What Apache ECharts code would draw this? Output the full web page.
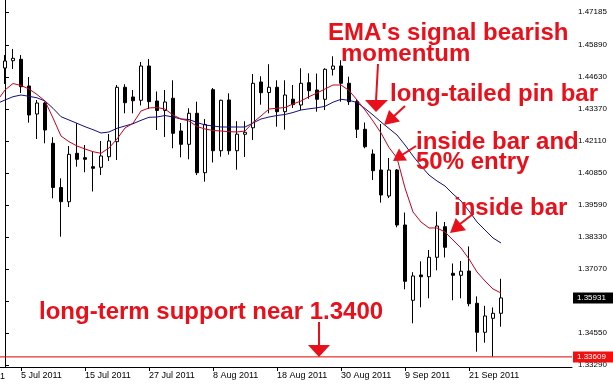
<!DOCTYPE html>
<html><head><meta charset="utf-8">
<script src="https://cdn.jsdelivr.net/npm/echarts@6/dist/echarts.min.js"></script>
<style>html,body{margin:0;padding:0;background:#fff}#c{width:613px;height:385px}</style>
</head><body><div id="c"></div>
<script>
const dates = ['1 Jul 2011','4 Jul 2011','5 Jul 2011','6 Jul 2011','7 Jul 2011','8 Jul 2011','11 Jul 2011','12 Jul 2011','13 Jul 2011','14 Jul 2011','15 Jul 2011','18 Jul 2011','19 Jul 2011','20 Jul 2011','21 Jul 2011','22 Jul 2011','25 Jul 2011','26 Jul 2011','27 Jul 2011','28 Jul 2011','29 Jul 2011',
'1 Aug 2011','2 Aug 2011','3 Aug 2011','4 Aug 2011','5 Aug 2011','8 Aug 2011','9 Aug 2011','10 Aug 2011','11 Aug 2011','12 Aug 2011','15 Aug 2011','16 Aug 2011','17 Aug 2011','18 Aug 2011','19 Aug 2011','22 Aug 2011','23 Aug 2011','24 Aug 2011','25 Aug 2011','26 Aug 2011','29 Aug 2011','30 Aug 2011','31 Aug 2011',
'1 Sep 2011','2 Sep 2011','5 Sep 2011','6 Sep 2011','7 Sep 2011','8 Sep 2011','9 Sep 2011','12 Sep 2011','13 Sep 2011','14 Sep 2011','15 Sep 2011','16 Sep 2011','19 Sep 2011','20 Sep 2011','21 Sep 2011','22 Sep 2011','23 Sep 2011','26 Sep 2011','27 Sep 2011'];

const opens = [1.44985,1.45272,1.45327,1.44276,1.43173,1.43606,1.42020,1.40279,1.39720,1.41626,1.41453,1.41098,1.41075,1.41492,1.42083,1.44225,1.43843,1.43713,1.45063,1.43685,1.43311,
1.43791,1.42504,1.41980,1.43201,1.40862,1.44130,1.41728,1.43725,1.41728,1.42374,1.42630,1.44433,1.44020,1.44225,1.43264,1.43756,1.43528,1.44406,1.44118,1.43752,1.44933,1.45063,1.44382,
1.43658,1.42571,1.41598,1.40968,1.39945,1.40968,1.38803,1.35838,1.36834,1.36767,1.37531,1.38736,1.36901,1.36822,1.36991,1.35720,1.34578,1.35129,1.35326];
const closes = [1.45260,1.45366,1.44248,1.43134,1.43606,1.42543,1.40279,1.39720,1.41586,1.41390,1.41390,1.41035,1.41520,1.42110,1.44225,1.43618,1.43697,1.45063,1.43658,1.43311,1.43646,
1.42413,1.41980,1.43201,1.40862,1.42760,1.41728,1.43713,1.41728,1.42378,1.42453,1.44382,1.44012,1.44225,1.43264,1.43921,1.43543,1.44382,1.44091,1.43752,1.44933,1.45063,1.44382,1.43658,
1.42571,1.41886,1.40941,1.39984,1.40968,1.38803,1.36586,1.36795,1.36767,1.37531,1.38763,1.37925,1.36822,1.36983,1.35704,1.34578,1.35220,1.35326,1.35931];
const lows = [1.44355,1.44945,1.44000,1.42831,1.42189,1.42020,1.39854,1.38342,1.39511,1.41098,1.40878,1.40122,1.40771,1.41323,1.41362,1.43201,1.43201,1.43508,1.43370,1.42543,1.42268,
1.41823,1.41468,1.41390,1.40771,1.40508,1.41264,1.41492,1.41571,1.40980,1.41480,1.42150,1.43539,1.43201,1.42673,1.42555,1.43410,1.43331,1.43772,1.43264,1.43331,1.44689,1.43658,1.43528,
1.42228,1.41823,1.40575,1.39681,1.39866,1.38712,1.36271,1.34932,1.35562,1.35916,1.37019,1.37523,1.35838,1.35916,1.35601,1.33814,1.34168,1.33617,1.34798];
const highs = [1.45496,1.45733,1.45496,1.44630,1.43725,1.43658,1.42256,1.40641,1.41913,1.42807,1.41953,1.41677,1.42110,1.42386,1.44315,1.44347,1.44118,1.45221,1.45339,1.44059,1.44118,
1.44500,1.42819,1.43398,1.43658,1.42976,1.44197,1.43736,1.43988,1.42890,1.42886,1.44748,1.44658,1.45134,1.44500,1.44500,1.44315,1.44973,1.44776,1.44764,1.44973,1.45445,1.45288,1.44642,
1.43752,1.42839,1.41775,1.42780,1.41441,1.41008,1.39295,1.36944,1.37373,1.37818,1.39326,1.38921,1.37287,1.37385,1.37960,1.35991,1.35621,1.35554,1.36684];

// moving averages, first value belongs to the bar before 1 Jul (index -1)
const emaFast = [1.43685,1.44118,1.44374,1.44295,1.44158,1.43941,1.43685,1.43016,1.42307,1.42083,1.41913,1.41795,1.41689,1.41626,1.41835,1.42189,1.42622,1.42807,1.43291,1.43410,1.43429,1.43370,
1.43134,1.42976,1.42898,1.42681,1.42583,1.42524,1.42504,1.42476,1.42465,1.42504,1.42839,1.43095,1.43370,1.43398,1.43429,1.43567,1.43685,1.43854,1.44000,1.44158,1.44315,1.44315,1.44099,
1.43725,1.43331,1.42898,1.42425,1.41854,1.41441,1.40260,1.39315,1.38921,1.38685,1.38685,1.38527,1.38212,1.37897,1.37464,1.36952,1.36598,1.36283,1.36125];
const emaSlow = [1.43587,1.43725,1.43854,1.43921,1.43870,1.43811,1.43685,1.43398,1.43067,1.42937,1.42807,1.42673,1.42555,1.42425,1.42465,1.42610,1.42701,1.42791,1.42925,1.43043,1.43055,1.43114,
1.43055,1.42976,1.42957,1.42839,1.42740,1.42701,1.42661,1.42661,1.42661,1.42661,1.42819,1.42976,1.43055,1.43114,1.43154,1.43232,1.43331,1.43378,1.43417,1.43476,1.43638,1.43752,1.43713,
1.43626,1.43390,1.43134,1.42858,1.42602,1.42346,1.41953,1.41520,1.41126,1.40771,1.40535,1.40338,1.40023,1.39748,1.39354,1.38921,1.38606,1.38291,1.38094];
const emaStart = -1;

const yTickValues = [1.47185,1.45890,1.44630,1.43370,1.42110,1.40850,1.39590,1.38330,1.37070,1.34550,1.33290];
const xTickIndex = [2,10,18,26,34,42,50,58];
const supportLevel = 1.33609;
const lastPrice = 1.35931;

const X_MIN = -0.625, X_MAX = 70.875;
const candleData = opens.map((o,i)=>[i,o,closes[i],lows[i],highs[i]]);
const fastData = emaFast.map((v,i)=>[i+emaStart,v]);
const slowData = emaSlow.map((v,i)=>[i+emaStart,v]);

const RED = '#e8101a';
const axisFont = '"Liberation Sans",Arial,sans-serif';
const annFont = 'bold 24px "Liberation Sans",Arial,sans-serif';

function txt(x,baseline,s){return {type:'text',left:x,top:baseline-20,z:100,style:{text:s,font:annFont,fill:RED}};}
function poly(points){return {type:'polygon',z:100,shape:{points},style:{fill:RED}};}
function line(points){return {type:'polyline',z:100,shape:{points},style:{stroke:RED,lineWidth:2,fill:null}};}

const chart = echarts.init(document.getElementById('c'));
chart.setOption({
  animation:false,
  backgroundColor:'#fff',
  grid:{left:0,right:41,top:0,bottom:18,containLabel:false,outerBoundsMode:'none'},
  xAxis:{type:'value',min:X_MIN,max:X_MAX,
    axisLine:{show:true,onZero:false,lineStyle:{color:'#000',width:1}},
    axisTick:{show:true,length:4,customValues:xTickIndex,lineStyle:{color:'#000'}},
    axisLabel:{customValues:xTickIndex,formatter:v=>dates[v]||'',align:'left',margin:4,color:'#000',fontSize:9,fontFamily:axisFont},
    splitLine:{show:false}},
  yAxis:{type:'value',position:'right',min:1.33211,max:1.47662,
    axisLine:{show:true,lineStyle:{color:'#000',width:1}},
    axisTick:{show:true,length:4,customValues:yTickValues.concat([1.3581]),lineStyle:{color:'#000'}},
    axisLabel:{customValues:yTickValues,formatter:v=>v.toFixed(5),margin:6,color:'#000',fontSize:8,fontFamily:axisFont},
    splitLine:{show:false}},
  series:[
    {type:'candlestick',data:candleData,encode:{x:0,y:[1,2,3,4]},barWidth:4,
     itemStyle:{color:'#fff',color0:'#000',borderColor:'#000',borderColor0:'#000',borderWidth:1}},
    {type:'line',data:slowData,showSymbol:false,silent:true,lineStyle:{color:'#10107a',width:1},z:3},
    {type:'line',data:fastData,showSymbol:false,silent:true,lineStyle:{color:'#c8001e',width:1},z:3},
    {type:'line',data:[[X_MIN,supportLevel],[X_MAX,supportLevel]],showSymbol:false,silent:true,z:4,
     lineStyle:{color:'#e00000',width:1},
     endLabel:{show:true,distance:1,formatter:()=>supportLevel.toFixed(5),color:'#fff',backgroundColor:'#f01010',padding:[2,8,1,4],fontSize:8,fontFamily:axisFont}},
    {type:'line',data:[[X_MIN,lastPrice],[X_MAX,lastPrice]],showSymbol:false,silent:true,z:4,
     lineStyle:{opacity:0},
     endLabel:{show:true,distance:1,formatter:()=>lastPrice.toFixed(5),color:'#fff',backgroundColor:'#000',padding:[2,8,1,4],fontSize:8,fontFamily:axisFont}}
  ],
  graphic:[
    txt(328,41,"EMA's signal bearish"),
    txt(341,62,'momentum'),
    txt(390,102,'long-tailed pin bar'),
    txt(416,150,'inside bar and'),
    txt(416,170,'50% entry'),
    txt(454,216,'inside bar'),
    txt(39,320,'long-term support near 1.3400'),
    line([[378,64],[376,101]]), poly([[365,100],[388,100],[376,112]]),
    line([[405,106],[392,118]]), poly([[400,121.5],[389,110],[384,125]]),
    line([[416,146],[402,155]]), poly([[407,160.4],[399,148.6],[393,161]]),
    line([[473,214],[460,224]]), poly([[466,230.3],[455.7,217.9],[450,233]]),
    line([[319,322],[319,346]]), poly([[308,345],[330,345],[319,357]]),
    {type:'text',left:0,top:372,style:{text:'1',fill:'#000',font:'9px '+axisFont}}
  ]
});
</script></body></html>
